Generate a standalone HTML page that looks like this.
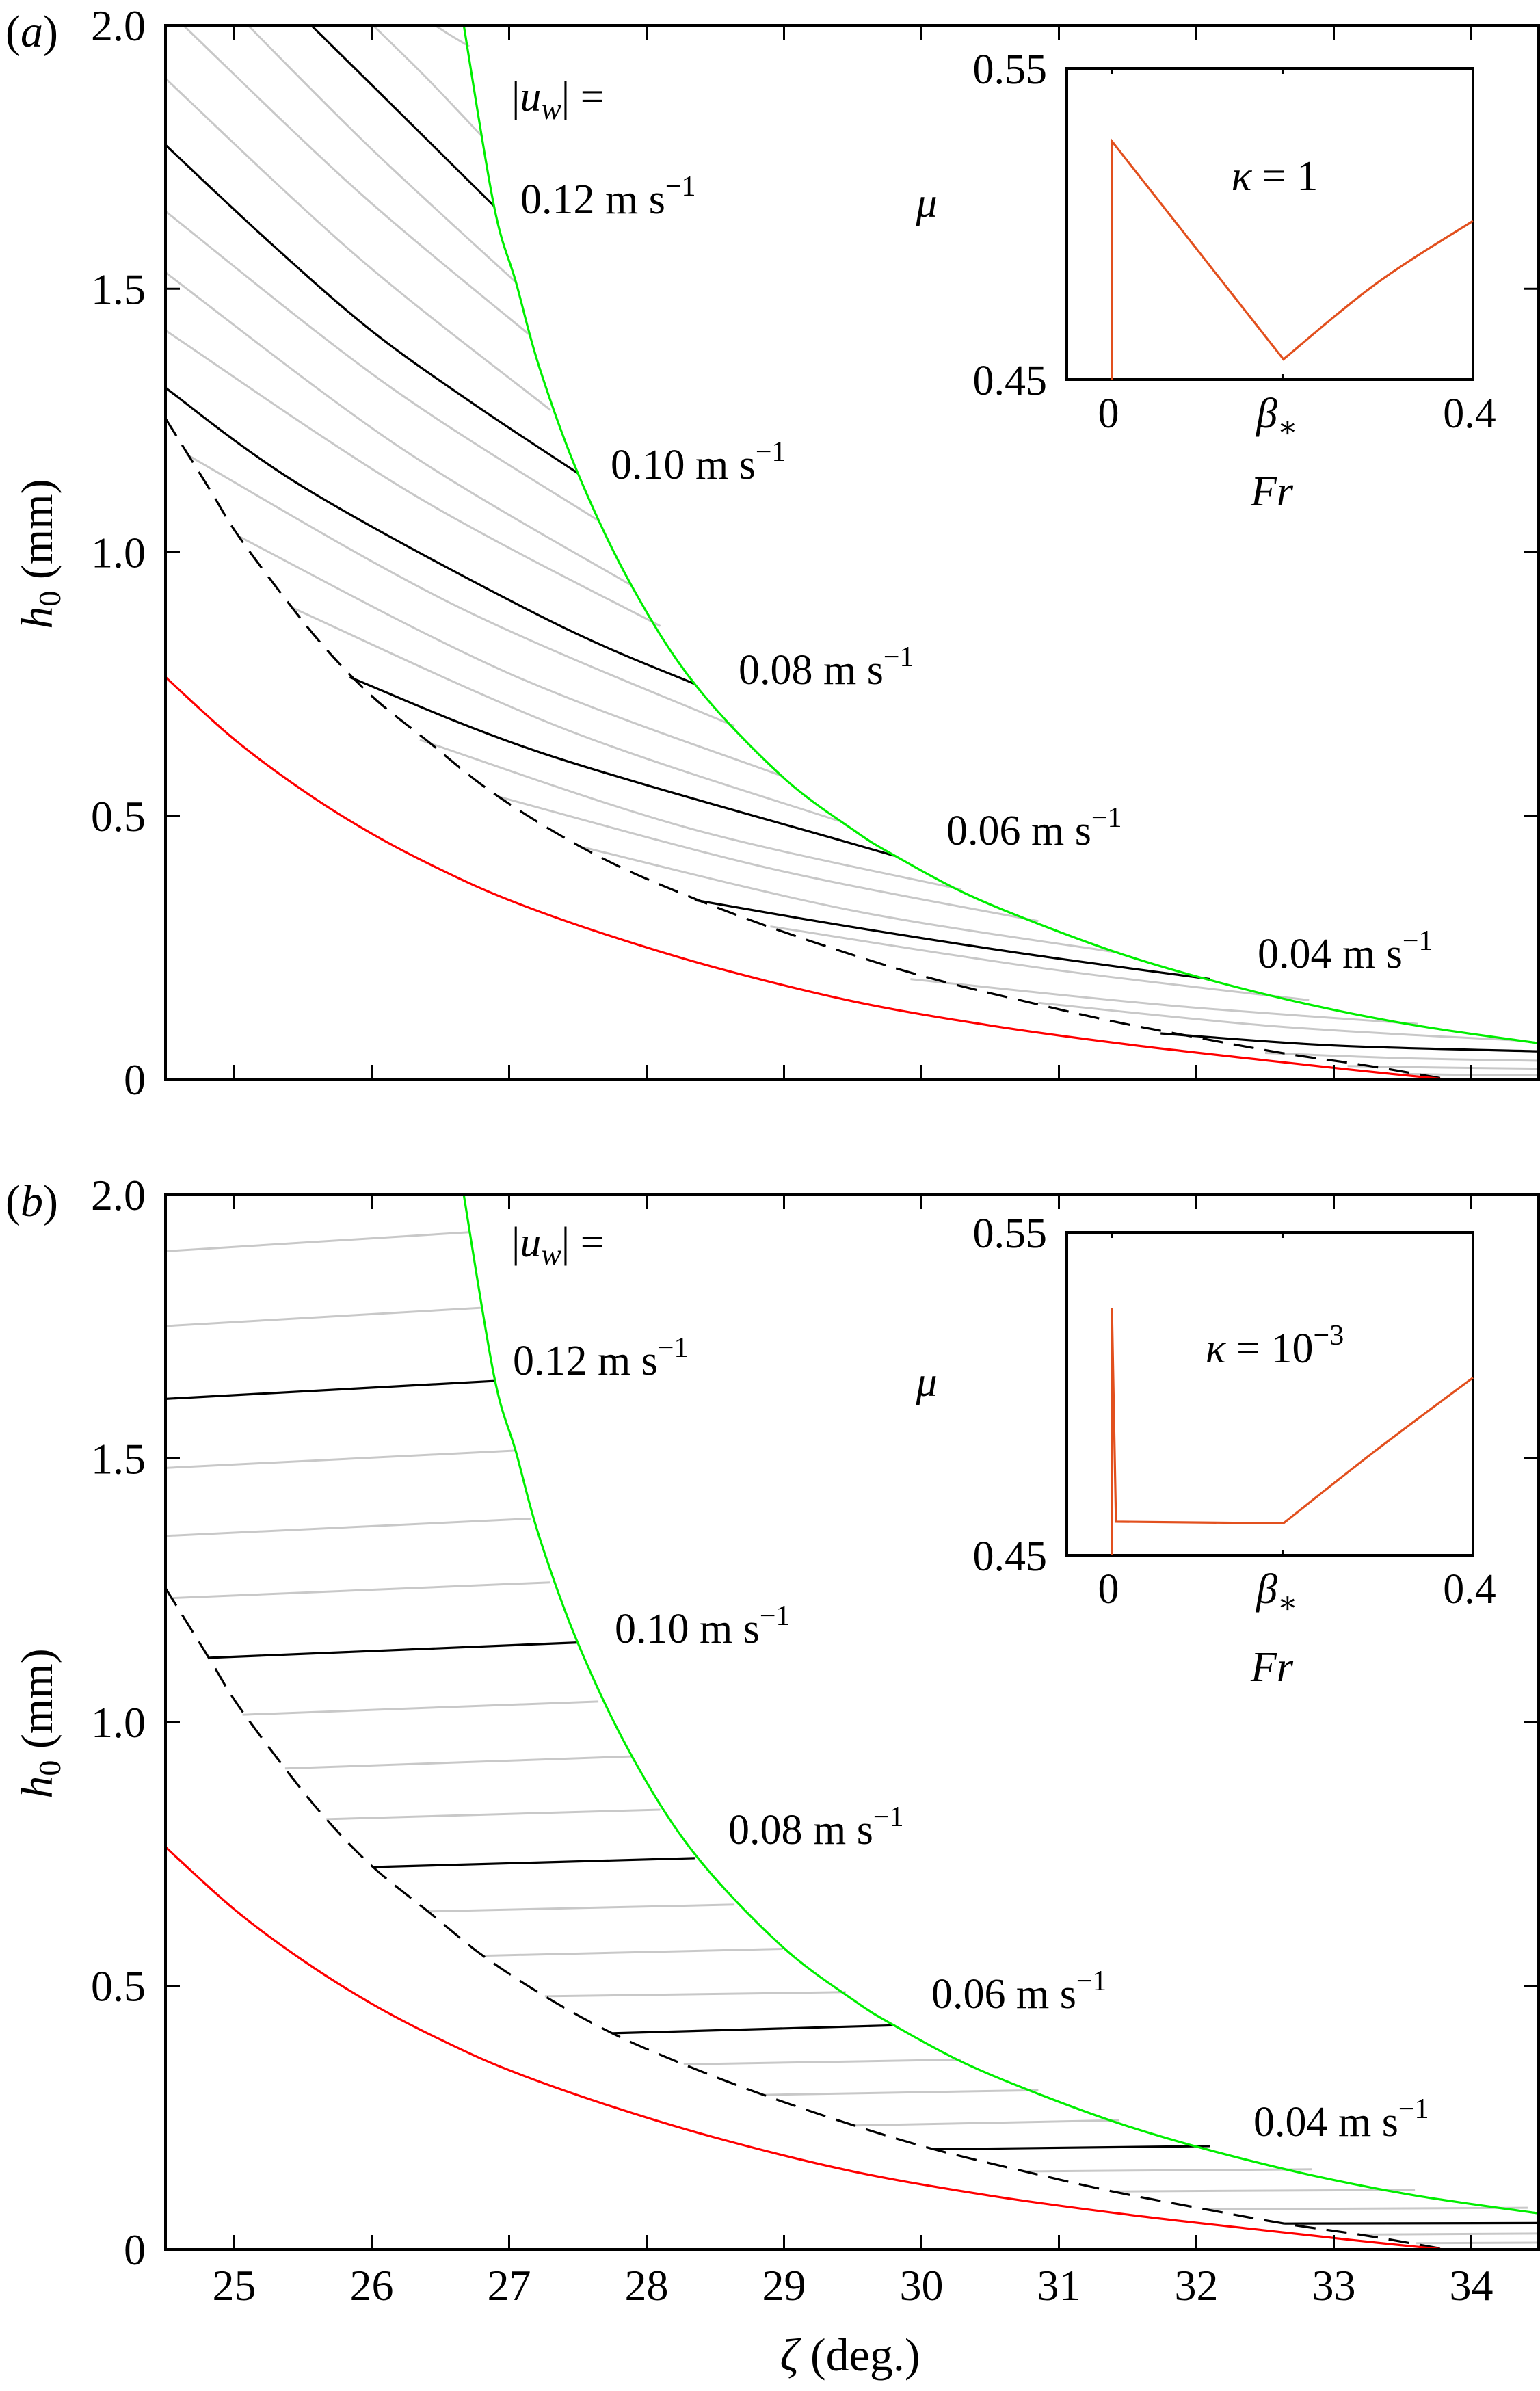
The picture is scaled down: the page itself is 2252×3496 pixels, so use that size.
<!DOCTYPE html>
<html><head><meta charset="utf-8"><style>
html,body{margin:0;padding:0;background:#fff}
svg{display:block}
text{font-family:"Liberation Serif","DejaVu Serif",serif;fill:#000}
</style></head><body>
<svg id="fig" xmlns="http://www.w3.org/2000/svg" width="2252" height="3496" viewBox="0 0 2252 3496">
<defs>
<clipPath id="clipA"><rect x="242" y="37" width="2010" height="1541"/></clipPath>
<clipPath id="clipB"><rect x="242" y="1747" width="2010" height="1542"/></clipPath>
</defs>
<g id="gA"></g>
<g id="gB"></g>
</svg>
<script>
// ---- data (zeta in deg, h0 in mm) ----
const xTicks = [25,26,27,28,29,30,31,32,33,34];
const yTicks = [0,0.5,1.0,1.5,2.0];
const yTickLabels = ["0","0.5","1.0","1.5","2.0"];
const redCurve = [[24.5,.763],[25,.645],[25.5,.548],[26,.466],[26.5,.398],[27,.34],[27.7,.275],[28.5,.212],[29.5,.148],[30.5,.102],[31.5,.066],[32.5,.036],[33.2,.016],[33.8,0]];
const greenCurve = [[26.67,2.0],[26.89,1.657],[27.05,1.512],[27.22,1.351],[27.5,1.15],[27.89,.937],[28.35,.75],[28.98,.576],[29.51,.472],[29.8,.425],[30.3,.355],[30.85,.295],[31.45,.238],[32.1,.188],[32.85,.14],[33.6,.102],[34.5,.068]];
const dashedCurve = [[24.5,1.254],[24.82,1.12],[25.02,1.035],[25.37,.912],[25.67,.816],[26.01,.725],[26.41,.641],[26.81,.557],[27.26,.48],[27.75,.41],[28.27,.351],[28.85,.293],[29.51,.235],[30.09,.19],[30.75,.148],[31.39,.11],[32.07,.076],[32.64,.049],[33.19,.028],[33.6,.01],[33.82,0]];
const blackA = [
 [[25.56,2.0],[26.0,1.887],[26.89,1.657]],
 [[24.5,1.773],[25.25,1.59],[26,1.42],[26.75,1.28],[27.5,1.15]],
 [[24.5,1.312],[25.52,1.121],[27.28,.872],[28.35,.75]],
 [[25.84,.763],[27.25,.618],[29.51,.446],[29.8,.425]],
 [[28.35,.34],[29.47,.29],[30.75,.238],[32.1,.19]],
 [[31.74,.087],[33.0,.064],[34.5,.053]]
];
const grayA = [
 [[26.46,2.0],[26.58,1.98],[26.71,1.96]],
 [[26.01,2.0],[26.4,1.9],[26.8,1.79]],
 [[25.1,2.0],[26.0,1.765],[27.05,1.512]],
 [[24.63,2.0],[25.9,1.685],[27.16,1.41]],
 [[24.5,1.899],[25.9,1.56],[27.3,1.27]],
 [[24.5,1.647],[26.1,1.32],[27.65,1.06]],
 [[24.5,1.531],[26.2,1.2],[27.89,.937]],
 [[24.5,1.421],[26.3,1.11],[28.1,.86]],
 [[24.65,1.186],[26.6,.90],[28.64,.67]],
 [[25.02,1.032],[27.0,.77],[28.99,.575]],
 [[25.42,.895],[27.4,.665],[29.4,.49]],
 [[26.35,.644],[28.3,.477],[30.29,.36]],
 [[26.91,.537],[28.9,.40],[30.85,.30]],
 [[27.54,.44],[29.5,.32],[31.44,.24]],
 [[28.9,.29],[30.9,.21],[32.82,.15]],
 [[29.92,.19],[31.8,.14],[33.61,.105]],
 [[30.85,.145],[32.6,.10],[34.38,.073]],
 [[32.5,.05],[33.5,.04],[34.5,.035]],
 [[33.1,.025],[33.8,.022],[34.5,.02]],
 [[33.5,.01],[34.0,.008],[34.5,.007]]
];
const blackB = [
 [[24.5,1.613],[26.89,1.647]],
 [[24.82,1.122],[27.5,1.151]],
 [[26.01,.725],[28.35,.742]],
 [[27.75,.41],[29.8,.425]],
 [[30.09,.19],[32.1,.196]],
 [[32.64,.049],[34.5,.05]]
];
const grayB = [
 [[24.5,1.893],[26.71,1.929]],
 [[24.5,1.751],[26.81,1.786]],
 [[24.5,1.482],[27.05,1.515]],
 [[24.5,1.353],[27.16,1.386]],
 [[24.53,1.235],[27.3,1.265]],
 [[25.06,1.014],[27.65,1.039]],
 [[25.37,.912],[27.89,.935]],
 [[25.67,.816],[28.1,.834]],
 [[26.41,.641],[28.64,.654]],
 [[26.81,.557],[28.99,.570]],
 [[27.26,.48],[29.45,.488]],
 [[28.27,.351],[30.29,.36]],
 [[28.85,.293],[30.85,.302]],
 [[29.51,.235],[31.44,.245]],
 [[30.75,.148],[32.84,.152]],
 [[31.39,.11],[33.59,.113]],
 [[32.07,.076],[34.41,.079]],
 [[33.19,.028],[34.5,.03]],
 [[33.6,.012],[34.5,.013]]
];
const speedLabels = ["0.12","0.10","0.08","0.06","0.04"];
// inset data (Fr, mu)
const insetFrA = [0,0,0.19,0.2925,0.4];
const insetMuA = [0.45,0.5266,0.4565,0.4808,0.501];
const insetFrB = [0,0,0.0045,0.19,0.2925,0.4];
const insetMuB = [0.45,0.5265,0.4604,0.4599,0.4825,0.505];
const betaStar = 0.189;

const NS="http://www.w3.org/2000/svg";
function mk(tag, attrs, parent){const e=document.createElementNS(NS,tag);for(const k in attrs)e.setAttribute(k,attrs[k]);parent.appendChild(e);return e;}
const sx = z => 242 + (z-24.5)*201;
function smoothPath(pts){
  if(pts.length<3){return "M"+pts.map(p=>p[0].toFixed(1)+","+p[1].toFixed(1)).join(" L");}
  let d="M"+pts[0][0].toFixed(1)+","+pts[0][1].toFixed(1);
  for(let i=0;i<pts.length-1;i++){
    const p0=pts[Math.max(0,i-1)],p1=pts[i],p2=pts[i+1],p3=pts[Math.min(pts.length-1,i+2)];
    const c1=[p1[0]+(p2[0]-p0[0])/6,p1[1]+(p2[1]-p0[1])/6];
    const c2=[p2[0]-(p3[0]-p1[0])/6,p2[1]-(p3[1]-p1[1])/6];
    d+=" C"+c1[0].toFixed(1)+","+c1[1].toFixed(1)+" "+c2[0].toFixed(1)+","+c2[1].toFixed(1)+" "+p2[0].toFixed(1)+","+p2[1].toFixed(1);
  }
  return d;
}
function label(parent,x,y,txt,sup,name,size){
  const t=mk("text",{x:x,y:y,"font-size":size||62},parent);
  
  
  t.appendChild(document.createTextNode(txt));
  if(sup){const s=mk("tspan",{dy:-26,"font-size":42},t);s.textContent=sup;}
  return t;
}

function panel(g, top, bottom, clipId, grays, blacks, letter, labelPos, uwPos){
  const H=bottom-top;
  const sy = h => bottom - h*H/2;
  const curves=mk("g",{"clip-path":"url(#"+clipId+")"},g);
  
  
  grays.forEach(l=>{
    const p=mk("path",{d:smoothPath(l.map(q=>[sx(q[0]),sy(q[1])])),fill:"none",stroke:"#c8c8c8","stroke-width":3},curves);
    
    
  });
  blacks.forEach(l=>{
    const p=mk("path",{d:smoothPath(l.map(q=>[sx(q[0]),sy(q[1])])),fill:"none",stroke:"#000","stroke-width":3.2},curves);
    
    
  });
  const dsh=mk("path",{d:smoothPath(dashedCurve.map(q=>[sx(q[0]),sy(q[1])])),fill:"none",stroke:"#000","stroke-width":3.2,"stroke-dasharray":"30 16"},curves);
  
  
  const red=mk("path",{d:smoothPath(redCurve.map(q=>[sx(q[0]),sy(q[1])])),fill:"none",stroke:"#ff0000","stroke-width":3.2},curves);
  
  
  const grn=mk("path",{d:smoothPath(greenCurve.map(q=>[sx(q[0]),sy(q[1])])),fill:"none",stroke:"#00ee00","stroke-width":3.2},curves);
  
  
  const fr=mk("rect",{x:242,y:top,width:2008,height:H,fill:"none",stroke:"#000","stroke-width":4},g);
  
  
  xTicks.forEach(z=>{
    const t1=mk("line",{x1:sx(z),x2:sx(z),y1:bottom,y2:bottom-21,stroke:"#000","stroke-width":3},g);
    
    
    const t2=mk("line",{x1:sx(z),x2:sx(z),y1:top,y2:top+21,stroke:"#000","stroke-width":3},g);
    
    
  });
  yTicks.forEach((h,i)=>{
    const t1=mk("line",{x1:242,x2:263,y1:sy(h),y2:sy(h),stroke:"#000","stroke-width":3},g);
    
    
    const t2=mk("line",{x1:2250,x2:2229,y1:sy(h),y2:sy(h),stroke:"#000","stroke-width":3},g);
    
    
    const tl=mk("text",{x:213,y:sy(h)+22,"font-size":64,"text-anchor":"end"},g);
    
    
    tl.textContent=yTickLabels[i];
  });
  const pl=mk("text",{x:8,y:top+31,"font-size":66},g);
  
  
  pl.appendChild(document.createTextNode("("));
  const it=mk("tspan",{"font-style":"italic"},pl); it.textContent=letter;
  pl.appendChild(document.createTextNode(")"));
  const yt=mk("text",{x:0,y:0,"font-size":66,"text-anchor":"middle",transform:"translate(76,"+(top+773)+") rotate(-90)"},g);
  
  
  const hh=mk("tspan",{"font-style":"italic"},yt); hh.textContent="h";
  const h0=mk("tspan",{dy:12,"font-size":46},yt); h0.textContent="0";
  const mm=mk("tspan",{dy:-12},yt); mm.textContent=" (mm)";
  const uw=mk("text",{x:uwPos[0],y:uwPos[1],"font-size":62},g);
  
  
  uw.appendChild(document.createTextNode("|"));
  const u=mk("tspan",{"font-style":"italic"},uw); u.textContent="u";
  const w=mk("tspan",{"font-style":"italic",dy:12,"font-size":44},uw); w.textContent="w";
  const r=mk("tspan",{dy:-12},uw); r.textContent="| =";
  speedLabels.forEach((s,i)=>label(g,labelPos[i][0],labelPos[i][1],s+" m s","\u22121","speed-label"));
}

const gA=document.getElementById("gA"), gB=document.getElementById("gB");
panel(gA,37,1578,"clipA",grayA,blackA,"a",[[761,312],[893,700],[1080,1000],[1384,1235],[1839,1415]],[748,162]);
panel(gB,1747,3289,"clipB",grayB,blackB,"b",[[750,2010],[899,2402],[1065,2696],[1362,2936],[1833,3123]],[748,1837]);

xTicks.forEach(z=>{
  const t=mk("text",{x:sx(z),y:3363,"font-size":64,"text-anchor":"middle"},gB);
  
  
  t.textContent=String(z);
});
const xt=mk("text",{x:1243,y:3466,"font-size":68,"text-anchor":"middle"},gB);


const zt=mk("tspan",{"font-style":"italic"},xt); zt.textContent="\u03B6";
xt.appendChild(document.createTextNode(" (deg.)"));

function inset(parent, top, bottom, frs, mus, kappaSup, kappaY, muY){
  const L=1560,R=2154;
  const ix=f=>1626+f*1320;
  const iy=m=>bottom-(m-0.45)*(bottom-top)/0.1;
  const g=mk("g",{},parent);
  
  
  const fr0=mk("rect",{x:L,y:top,width:R-L,height:bottom-top,fill:"#fff",stroke:"#000","stroke-width":4},g);
  
  
  [0,betaStar].forEach(f=>{
    const a=mk("line",{x1:ix(f),x2:ix(f),y1:bottom,y2:bottom-8,stroke:"#000","stroke-width":3},g);
    
    
    const b=mk("line",{x1:ix(f),x2:ix(f),y1:top,y2:top+8,stroke:"#000","stroke-width":3},g);
    
    
  });
  const pts=frs.map((f,i)=>[ix(f),iy(mus[i])]);
  const nTail=3;
  let d="M"+pts[0][0]+","+pts[0][1];
  for(let i=1;i<pts.length-nTail+1;i++){d+=" L"+pts[i][0].toFixed(1)+","+pts[i][1].toFixed(1);}
  const tail=pts.slice(pts.length-nTail);
  d+=" "+smoothPath(tail).replace(/^M[^ ]+/,"");
  const c=mk("path",{d:d,fill:"none",stroke:"#e2501e","stroke-width":3.2},g);
  
  
  const y1=mk("text",{x:1531,y:top+22,"font-size":62,"text-anchor":"end"},g); y1.textContent="0.55";
   
  const y2=mk("text",{x:1531,y:bottom+22,"font-size":62,"text-anchor":"end"},g); y2.textContent="0.45";
   
  const x0=mk("text",{x:ix(0)-5,y:bottom+70,"font-size":62,"text-anchor":"middle"},g); x0.textContent="0";
   
  const xb=mk("text",{x:ix(betaStar)-8,y:bottom+70,"font-size":62,"text-anchor":"middle","font-style":"italic"},g);
   
  xb.appendChild(document.createTextNode("\u03B2"));
  const st=mk("tspan",{dy:14,"font-size":44,"font-style":"normal"},xb); st.textContent="\u2217";
  const x4=mk("text",{x:R-5,y:bottom+70,"font-size":62,"text-anchor":"middle"},g); x4.textContent="0.4";
   
  const fr=mk("text",{x:1860,y:bottom+184,"font-size":62,"text-anchor":"middle","font-style":"italic"},g); fr.textContent="Fr";
   
  const mu=mk("text",{x:1355,y:muY,"font-size":62,"text-anchor":"middle","font-style":"italic"},g); mu.textContent="\u03BC";
   
  const k=mk("text",{x:1864,y:kappaY,"font-size":62,"text-anchor":"middle"},g);
   
  const kk=mk("tspan",{"font-style":"italic"},k); kk.textContent="\u03BA";
  if(kappaSup){k.appendChild(document.createTextNode(" = 10"));const s=mk("tspan",{dy:-26,"font-size":42},k);s.textContent=kappaSup;}
  else k.appendChild(document.createTextNode(" = 1"));
}
inset(gA,100,555,insetFrA,insetMuA,null,278,317);
inset(gB,1802,2274,insetFrB,insetMuB,"\u22123",1992,2041);
</script>
</body></html>
